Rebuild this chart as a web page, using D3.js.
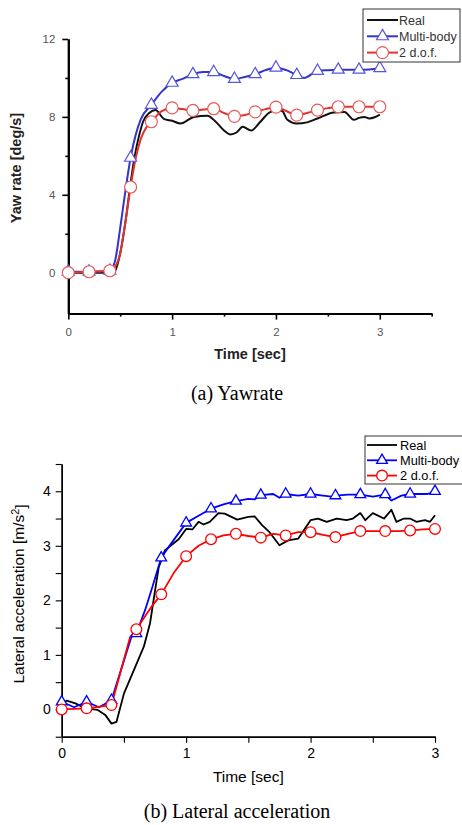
<!DOCTYPE html>
<html>
<head>
<meta charset="utf-8">
<script src="https://cdn.jsdelivr.net/npm/d3@7/dist/d3.min.js"></script>
<style>
  body { margin: 0; background: #fff; }
  svg { display: block; }
</style>
</head>
<body>
<script>
// ---- data: (a) yaw rate [deg/s] ----
var yawRealT = [0, 0.1, 0.2, 0.3, 0.4, 0.45, 0.5, 0.55, 0.6, 0.64, 0.68, 0.72, 0.78, 0.84, 0.92, 1.0, 1.08, 1.21, 1.34, 1.42, 1.5, 1.56, 1.62, 1.68, 1.76, 1.85, 1.93, 2.01, 2.06, 2.11, 2.2, 2.3, 2.4, 2.56, 2.66, 2.75, 2.8, 2.85, 2.9, 2.95, 3.0];
var yawReal  = [0, 0, 0, 0, 0, 0.1, 1.0, 2.6, 4.6, 6.0, 7.0, 7.75, 8.2, 8.35, 7.9, 7.8, 7.66, 8.0, 8.06, 7.75, 7.3, 7.1, 7.2, 7.49, 7.3, 7.75, 8.2, 8.35, 8.3, 7.85, 7.66, 7.72, 7.92, 8.23, 8.25, 7.85, 7.95, 8.0, 7.92, 7.98, 8.12];

var yawMbT = [0, 0.2, 0.4, 0.45, 0.5, 0.55, 0.6, 0.65, 0.7, 0.8, 0.9, 1.0, 1.1, 1.2, 1.3, 1.4, 1.5, 1.6, 1.7, 1.8, 1.9, 2.0, 2.1, 2.2, 2.27, 2.4, 2.5, 2.6, 2.7, 2.8, 2.9, 3.0];
var yawMb  = [0.05, 0.05, 0.1, 0.6, 2.3, 4.2, 5.9, 7.1, 7.9, 8.62, 9.3, 9.75, 9.95, 10.19, 10.3, 10.3, 10.1, 9.95, 10.05, 10.19, 10.4, 10.53, 10.4, 10.15, 10.0, 10.36, 10.4, 10.42, 10.42, 10.42, 10.44, 10.5];

var yawDofT = [0, 0.2, 0.4, 0.45, 0.5, 0.55, 0.6, 0.65, 0.7, 0.75, 0.8, 0.9, 1.0, 1.1, 1.2, 1.3, 1.4, 1.5, 1.6, 1.7, 1.8, 1.9, 2.0, 2.1, 2.2, 2.3, 2.4, 2.5, 2.6, 2.7, 2.8, 2.9, 3.0];
var yawDof  = [0, 0.05, 0.1, 0.3, 1.0, 2.6, 4.4, 5.9, 6.9, 7.45, 7.75, 8.3, 8.46, 8.4, 8.33, 8.38, 8.42, 8.2, 8.03, 8.1, 8.26, 8.4, 8.5, 8.3, 8.09, 8.2, 8.35, 8.45, 8.52, 8.52, 8.52, 8.52, 8.52];

// ---- data: (b) lateral acceleration [m/s^2] ----
var latRealT = [0, 0.04, 0.11, 0.19, 0.29, 0.35, 0.4, 0.44, 0.5, 0.58, 0.66, 0.71, 0.75, 0.78, 0.83, 0.94, 1.0, 1.05, 1.1, 1.14, 1.19, 1.26, 1.31, 1.41, 1.5, 1.55, 1.61, 1.67, 1.75, 1.82, 1.9, 2.0, 2.06, 2.13, 2.21, 2.29, 2.34, 2.4, 2.44, 2.5, 2.59, 2.65, 2.69, 2.75, 2.8, 2.85, 2.92, 2.96, 3.0];
var latReal  = [0.11, 0.16, 0.11, 0.02, -0.01, -0.1, -0.26, -0.23, 0.29, 0.72, 1.15, 1.58, 2.18, 2.61, 2.92, 3.12, 3.31, 3.3, 3.44, 3.39, 3.44, 3.6, 3.59, 3.48, 3.53, 3.54, 3.38, 3.25, 3.01, 3.1, 3.13, 3.47, 3.5, 3.44, 3.5, 3.47, 3.5, 3.6, 3.47, 3.6, 3.5, 3.66, 3.44, 3.5, 3.5, 3.44, 3.47, 3.44, 3.56];

var latMbT = [0, 0.1, 0.2, 0.3, 0.4, 0.56, 0.6, 0.67, 0.72, 0.8, 0.86, 1.0, 1.1, 1.2, 1.3, 1.4, 1.5, 1.55, 1.6, 1.7, 1.75, 1.8, 1.9, 2.0, 2.1, 2.17, 2.2, 2.3, 2.4, 2.5, 2.6, 2.65, 2.73, 2.8, 2.94, 3.0];
var latMb  = [0.14, 0.04, 0.14, 0.04, 0.17, 1.33, 1.39, 1.82, 2.18, 2.78, 2.98, 3.42, 3.55, 3.68, 3.76, 3.82, 3.86, 3.85, 3.93, 3.95, 3.88, 3.95, 3.92, 3.95, 3.92, 3.9, 3.92, 3.94, 3.94, 3.9, 3.94, 3.83, 3.92, 3.95, 3.95, 4.0];

var latDofT = [0, 0.2, 0.4, 0.55, 0.58, 0.6, 0.72, 0.8, 0.9, 1.0, 1.1, 1.2, 1.3, 1.4, 1.5, 1.6, 1.7, 1.8, 1.9, 2.0, 2.1, 2.2, 2.3, 2.4, 2.5, 2.6, 2.7, 2.8, 2.9, 3.0];
var latDof  = [0, 0.02, 0.08, 1.33, 1.4, 1.47, 1.88, 2.11, 2.5, 2.81, 3.0, 3.12, 3.19, 3.22, 3.18, 3.15, 3.22, 3.19, 3.25, 3.25, 3.2, 3.16, 3.22, 3.27, 3.27, 3.27, 3.27, 3.28, 3.3, 3.31];

// symbols are drawn every 0.2 s
var markerT = [0, 0.2, 0.4, 0.6, 0.8, 1.0, 1.2, 1.4, 1.6, 1.8, 2.0, 2.2, 2.4, 2.6, 2.8, 3.0];
var seriesNames = ["Real", "Multi-body", "2 d.o.f."];

var yawYTicks = [0, 4, 8, 12], yawYMinor = [2, 6, 10];
var yawXTicks = [0, 1, 2, 3], yawXMinor = [0.5, 1.5, 2.5, 3.5];
var latYTicks = [0, 1, 2, 3, 4], latYMinor = [-0.5, 0.5, 1.5, 2.5, 3.5, 4.5];
var latXTicks = [0, 1, 2, 3], latXMinor = [0.5, 1.5, 2.5];

var svg = d3.select("body").append("svg")
    .attr("width", 462)
    .attr("height", 825);

function zip(t, v) { return t.map(function(d, i) { return {t: d, v: v[i]}; }); }
function onMarker(d) { return markerT.some(function(m) { return Math.abs(m - d.t) < 1e-6; }); }

/* one panel: axes, lines, symbols, legend */
function panel(p) {
    var g = svg.append("g");
    var x = d3.scaleLinear().domain(p.xDomain).range(p.xRange);
    var y = d3.scaleLinear().domain(p.yDomain).range(p.yRange);
    var yBase = p.yRange[0];

    function styleAxis(a) {
        a.selectAll("path.domain").attr("stroke", "#000").attr("stroke-width", p.axisW);
        a.selectAll(".tick line").attr("stroke", "#000").attr("stroke-width", p.axisW * 0.8);
        a.selectAll("text").attr("font-family", "Liberation Sans, Arial, sans-serif")
            .attr("font-size", p.tickFont).attr("fill", p.tickColor);
    }

    // minor ticks first
    g.append("g").attr("transform", "translate(0," + yBase + ")")
        .call(d3.axisBottom(x).tickValues(p.xMinor).tickSize(p.minorLen).tickSizeOuter(0).tickFormat(""))
        .call(styleAxis);
    g.append("g").attr("transform", "translate(" + p.xRange[0] + ",0)")
        .call(d3.axisLeft(y).tickValues(p.yMinor).tickSize(p.minorLen).tickSizeOuter(0).tickFormat(""))
        .call(styleAxis);

    g.append("g").attr("transform", "translate(0," + yBase + ")")
        .call(d3.axisBottom(x).tickValues(p.xTicks).tickSize(p.majorLen).tickSizeOuter(0)
            .tickPadding(p.xPad).tickFormat(d3.format("d")))
        .call(styleAxis);
    g.append("g").attr("transform", "translate(" + p.xRange[0] + ",0)")
        .call(d3.axisLeft(y).tickValues(p.yTicks).tickSize(p.majorLen).tickSizeOuter(0)
            .tickPadding(p.yPad).tickFormat(d3.format("d")))
        .call(styleAxis);

    // axis titles
    g.append("text")
        .attr("x", (p.xRange[0] + p.xRange[1]) / 2)
        .attr("y", p.xTitleY)
        .attr("text-anchor", "middle")
        .attr("font-family", "Liberation Sans, Arial, sans-serif")
        .attr("font-size", p.titleFont)
        .attr("font-weight", p.titleWeight)
        .attr("fill", p.titleColor)
        .text("Time [sec]");

    var yt = g.append("text")
        .attr("transform", "translate(" + p.yTitleX + "," + p.yTitleY + ") rotate(-90)")
        .attr("text-anchor", "middle")
        .attr("font-family", "Liberation Sans, Arial, sans-serif")
        .attr("font-size", p.titleFont)
        .attr("font-weight", p.titleWeight)
        .attr("fill", p.titleColor);
    p.yTitle(yt);

    // lines
    var line = d3.line()
        .x(function(d) { return x(d.t); })
        .y(function(d) { return y(d.v); })
        .curve(p.curve);

    p.series.forEach(function(s) {
        g.append("path")
            .datum(s.data)
            .attr("fill", "none")
            .attr("stroke", s.color)
            .attr("stroke-width", p.lineW)
            .attr("stroke-linejoin", "round")
            .attr("d", line);
    });

    p.series.forEach(function(s) {
        if (!s.symbol) return;
        g.selectAll(null)
            .data(s.data.filter(onMarker))
            .enter()
            .append("path")
            .attr("transform", function(d) { return "translate(" + x(d.t) + "," + y(d.v) + ")"; })
            .attr("d", d3.symbol().type(s.symbol).size(s.symbol === d3.symbolTriangle ? p.triSize : p.circSize))
            .attr("fill", "#fff")
            .attr("stroke", s.markColor)
            .attr("stroke-width", p.markW);
    });

    // legend
    var L = p.legend;
    var lg = g.append("g");
    lg.append("rect")
        .attr("x", L.x).attr("y", L.y)
        .attr("width", L.w).attr("height", L.h)
        .attr("fill", "#fff")
        .attr("stroke", "#333")
        .attr("stroke-width", 1);
    p.series.forEach(function(s, i) {
        var ly = L.firstY + i * L.step;
        lg.append("line")
            .attr("x1", L.lineX0).attr("x2", L.lineX1)
            .attr("y1", ly).attr("y2", ly)
            .attr("stroke", s.color).attr("stroke-width", p.lineW);
        if (s.symbol) {
            lg.append("path")
                .attr("transform", "translate(" + (L.lineX0 + L.lineX1) / 2 + "," + ly + ")")
                .attr("d", d3.symbol().type(s.symbol).size(s.symbol === d3.symbolTriangle ? p.triSize : p.circSize))
                .attr("fill", "#fff")
                .attr("stroke", s.markColor)
                .attr("stroke-width", p.markW);
        }
        lg.append("text")
            .attr("x", L.textX).attr("y", ly)
            .attr("dy", "0.36em")
            .attr("font-family", "Liberation Sans, Arial, sans-serif")
            .attr("font-size", L.font)
            .attr("fill", L.color)
            .text(seriesNames[i]);
    });

    // caption
    svg.append("text")
        .attr("x", 237)
        .attr("y", p.captionY)
        .attr("text-anchor", "middle")
        .attr("font-family", "Liberation Serif, Times New Roman, serif")
        .attr("font-size", 20)
        .attr("fill", "#000")
        .text(p.caption);
}

// (a) Yawrate
panel({
    xDomain: [0, 3.5], xRange: [68.3, 431.7],
    yDomain: [-2.1, 12], yRange: [313.6, 39],
    xTicks: yawXTicks, xMinor: yawXMinor, yTicks: yawYTicks, yMinor: yawYMinor,
    majorLen: 6, minorLen: 3, xPad: 8, yPad: 7,
    axisW: 2, tickFont: 11.5, tickColor: "#555",
    titleFont: 14.5, titleWeight: "bold", titleColor: "#222",
    xTitleY: 359, yTitleX: 21, yTitleY: 168,
    yTitle: function(t) { t.text("Yaw rate [deg/s]"); },
    curve: d3.curveMonotoneX, lineW: 2, markW: 1.2,
    triSize: 62, circSize: 113,
    series: [
        {data: zip(yawRealT, yawReal), color: "#111"},
        {data: zip(yawMbT, yawMb), color: "#3434c8", markColor: "#5656dc", symbol: d3.symbolTriangle},
        {data: zip(yawDofT, yawDof), color: "#e03434", markColor: "#e85a5a", symbol: d3.symbolCircle}
    ],
    legend: {x: 363, y: 9, w: 97, h: 53, firstY: 20, step: 16.3,
             lineX0: 367, lineX1: 398, textX: 399, font: 12.5, color: "#333"},
    caption: "(a) Yawrate", captionY: 400
});

// (b) Lateral acceleration
panel({
    xDomain: [0, 3], xRange: [61.7, 435],
    yDomain: [-0.5, 4.5], yRange: [736.7, 464],
    xTicks: latXTicks, xMinor: latXMinor, yTicks: latYTicks, yMinor: latYMinor,
    majorLen: 6, minorLen: 6, xPad: 5, yPad: 5,
    axisW: 1.4, tickFont: 14, tickColor: "#000",
    titleFont: 15.5, titleWeight: "normal", titleColor: "#000",
    xTitleY: 782, yTitleX: 23.5, yTitleY: 594,
    yTitle: function(t) {
        t.append("tspan").text("Lateral acceleration [m/s");
        t.append("tspan").attr("dy", "-0.45em").attr("font-size", "70%").text("2");
        t.append("tspan").attr("dy", "0.45em").text("]");
    },
    curve: d3.curveLinear, lineW: 1.8, markW: 1.3,
    triSize: 50, circSize: 90,
    series: [
        {data: zip(latRealT, latReal), color: "#000"},
        {data: zip(latMbT, latMb), color: "#0000ff", markColor: "#0000ff", symbol: d3.symbolTriangle},
        {data: zip(latDofT, latDof), color: "#ff0000", markColor: "#ff0000", symbol: d3.symbolCircle}
    ],
    legend: {x: 365, y: 436, w: 110, h: 48, firstY: 445, step: 15.3,
             lineX0: 367, lineX1: 397, textX: 400, font: 12.8, color: "#000"},
    caption: "(b) Lateral acceleration", captionY: 818
});
</script>
</body>
</html>
